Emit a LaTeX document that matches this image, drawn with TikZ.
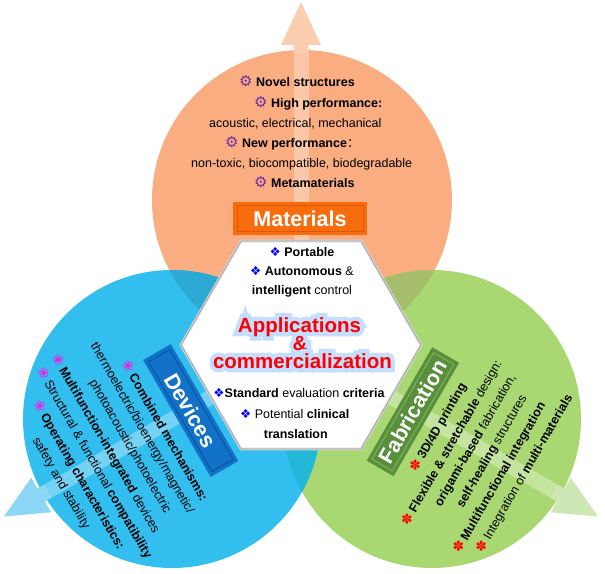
\documentclass[tikz,border=0pt]{standalone}
\usepackage{fontspec}
\setmainfont{Liberation Sans}
\newfontfamily\dejavu{DejaVu Sans}
\newfontfamily\cjk{Noto Sans CJK SC}
\newfontfamily\glowfont[FakeBold=42]{Liberation Sans Bold}
\definecolor{orangeC}{RGB}{249,173,129}
\definecolor{blueC}{RGB}{51,190,240}
\definecolor{greenC}{RGB}{169,216,114}
\definecolor{ovOB}{RGB}{44,170,212}
\definecolor{ovOG}{RGB}{166,190,108}
\definecolor{ovBG}{RGB}{36,184,216}
\definecolor{headO}{RGB}{252,206,176}
\definecolor{headB}{RGB}{140,215,245}
\definecolor{headG}{RGB}{205,232,180}
\definecolor{matfill}{RGB}{249,108,14}
\definecolor{matline}{RGB}{222,88,6}
\definecolor{devfill}{RGB}{18,114,200}
\definecolor{devline}{RGB}{10,84,160}
\definecolor{fabfill}{RGB}{88,142,60}
\definecolor{fabline}{RGB}{125,180,88}
\definecolor{gearpurple}{RGB}{112,48,160}
\definecolor{flowmag}{RGB}{230,40,230}
\definecolor{diablue}{RGB}{0,0,255}
\definecolor{starred}{RGB}{255,0,0}
\definecolor{glowB}{RGB}{196,222,255}
\newcommand\gearb{{\dejavu\fontsize{15}{15}\selectfont\color{gearpurple}⚙}}
\newcommand\flowb{{\dejavu\fontsize{14}{14}\selectfont\color{flowmag}❀}}
\newcommand\diab{{\dejavu\color{diablue}❖}}
\newcommand\starb{{\dejavu\fontsize{13.5}{13.5}\selectfont\color{starred}✽}}
\newcommand\glowtext[1]{\makebox[0pt][l]{\glowfont\color{glowB}#1}\textcolor{red}{#1}}
\begin{document}
\begin{tikzpicture}[x=1pt,y=-1pt,
  txt/.style={font=\fontsize{12.5}{15}\selectfont, inner sep=0pt, text=black},
  bigtxt/.style={font=\fontsize{20.5}{18}\selectfont\bfseries, inner sep=0pt, anchor=base},
  boxtxt/.style={font=\fontsize{21.5}{24}\selectfont\bfseries, text=white, inner sep=0pt},
  labbox/.style={inner sep=0pt, minimum width=#1},
  innerbox/.style={draw=#1, line width=1pt, inner sep=0pt, fill=none}]
\useasboundingbox (0,0) rectangle (605,573);
% circles
\fill[orangeC] (302,200) circle (150pt);
\fill[greenC] (432,419) circle (149pt);
\fill[blueC] (172,419) circle (149pt);
\begin{scope}
  \clip (302,200) circle (150pt);
  \fill[ovOB] (172,419) circle (149pt);
  \fill[ovOG] (432,419) circle (149pt);
\end{scope}
\begin{scope}
  \clip (432,419) circle (149pt);
  \fill[ovBG] (172,419) circle (149pt);
\end{scope}
% arrows
\foreach \ang/\hc in {0/headO,120/headB,-120/headG}{
  \begin{scope}[shift={(301,345)}, rotate=\ang]
    \fill[white, opacity=0.32] (-7.5,0) -- (-7.5,-292) -- (7.5,-292) -- (7.5,0) -- cycle;
    \fill[\hc] (-7.5,-292) -- (-7.5,-300) -- (-20,-300) -- (0,-343) -- (20,-300) -- (7.5,-300) -- (7.5,-292) -- cycle;
  \end{scope}}
% hexagon
\fill[white] (241,241) -- (361,241) -- (421,345) -- (361,449) -- (241,449) -- (181,345) -- cycle;
\draw[gray!30, line width=2.6pt, line join=miter] (241,241) -- (361,241) -- (421,345) -- (361,449) -- (241,449) -- (181,345) -- cycle;
\draw[gray!75, line width=0.7pt] (241,241) -- (361,241) -- (421,345) -- (361,449) -- (241,449) -- (181,345) -- cycle;
% label boxes
\node[labbox=134pt, minimum height=33.5pt, fill=matfill] (matbox) at (300,218.5) {};
\node[innerbox=matline, minimum width=126pt, minimum height=26pt] (matin) at (300,218.5) {};
\node[boxtxt] (mattxt) at (300,218.5) {Materials};
\node[labbox=135pt, minimum height=32pt, fill=devfill, rotate=-60] (devbox) at (190.75,410.5) {};
\node[innerbox=devline, minimum width=127pt, minimum height=24.5pt, rotate=-60] (devin) at (190.75,410.5) {};
\node[boxtxt, rotate=-60] (devtxt) at (190.75,410.5) {Devices};
\node[labbox=131pt, minimum height=31pt, fill=fabfill, rotate=60] (fabbox) at (412.9,411.7) {};
\node[innerbox=fabline, minimum width=123pt, minimum height=23.5pt, rotate=60] (fabin) at (412.9,411.7) {};
\node[boxtxt, rotate=60] (fabtxt) at (412.9,411.7) {Fabrication};
% materials text
\node[txt, anchor=base west] (m1) at (239,86.5) {\gearb\ \textbf{Novel structures}};
\node[txt, anchor=base west] (m2) at (254,107.5) {\gearb\ \textbf{High performance:}};
\node[txt, anchor=base west] (m3) at (209,127.5) {acoustic, electrical, mechanical};
\node[txt, anchor=base west] (m4) at (225,147.5) {\gearb\ \textbf{New performance}{\cjk ：}};
\node[txt, anchor=base west] (m5) at (191,167.5) {non-toxic, biocompatible, biodegradable};
\node[txt, anchor=base west] (m6) at (254,187.5) {\gearb\ \textbf{Metamaterials}};
% central text
\node[txt, anchor=base] (c1) at (302,256.5) {\diab\ \textbf{Portable}};
\node[txt, anchor=base] (c2) at (302,275.5) {\diab\ \textbf{Autonomous} \&};
\node[txt, anchor=base] (c3) at (302,294.5) {\textbf{intelligent} control};
\node[txt, anchor=base] (c7) at (299,397) {\diab\textbf{Standard} evaluation \textbf{criteria}};
\node[txt, anchor=base] (c8) at (294.7,418.5) {\diab\ Potential \textbf{clinical}};
\node[txt, anchor=base] (c9) at (295.8,438.5) {\textbf{translation}};
\node[bigtxt] (appl) at (299.5,332) {\glowtext{Applications}};
\node[bigtxt] (amp) at (300,350) {\glowtext{\&}};
\node[bigtxt] (comm) at (302.5,368) {\glowtext{commercialization}};
% devices text
\node[txt, rotate=-60] (d1) at (165.4,430.5) {\flowb\ \textbf{Combined mechanisms:}};
\node[txt, rotate=-60] (d2) at (141.8,428.5) {thermoelectric/bioenergy/magnetic/};
\node[txt, rotate=-60] (d3) at (129.8,446.8) {photoacoustic/photoelectric};
\node[txt, rotate=-60] (d4) at (105.5,443.7) {\flowb\ \textbf{Multifunction-integrated} devices};
\node[txt, rotate=-60] (d5) at (94.2,463.1) {\flowb\ Structural \& functional \textbf{compatibility}};
\node[txt, rotate=-60] (d6) at (78.5,474.9) {\flowb\ \textbf{Operating characteristics:}};
\node[txt, rotate=-60] (d7) at (60.8,483.3) {safety and stability};
% fabrication text
\node[txt, rotate=60] (f1) at (438.5,427.5) {\starb\ \textbf{3D/4D printing}};
\node[txt, rotate=60] (f2) at (452.0,443.1) {\starb\ \textbf{Flexible \& stretchable} design:};
\node[txt, rotate=60] (f3) at (475.8,440.8) {\textbf{origami-based} fabrication,};
\node[txt, rotate=60] (f4) at (492.2,451.5) {\textbf{self-healing} structures};
\node[txt, rotate=60] (f5) at (499.6,477.7) {\starb\ \textbf{Multifunctional integration}};
\node[txt, rotate=60] (f6) at (524.5,473.5) {\starb\ Integration of \textbf{multi-materials}};
\end{tikzpicture}
\end{document}
